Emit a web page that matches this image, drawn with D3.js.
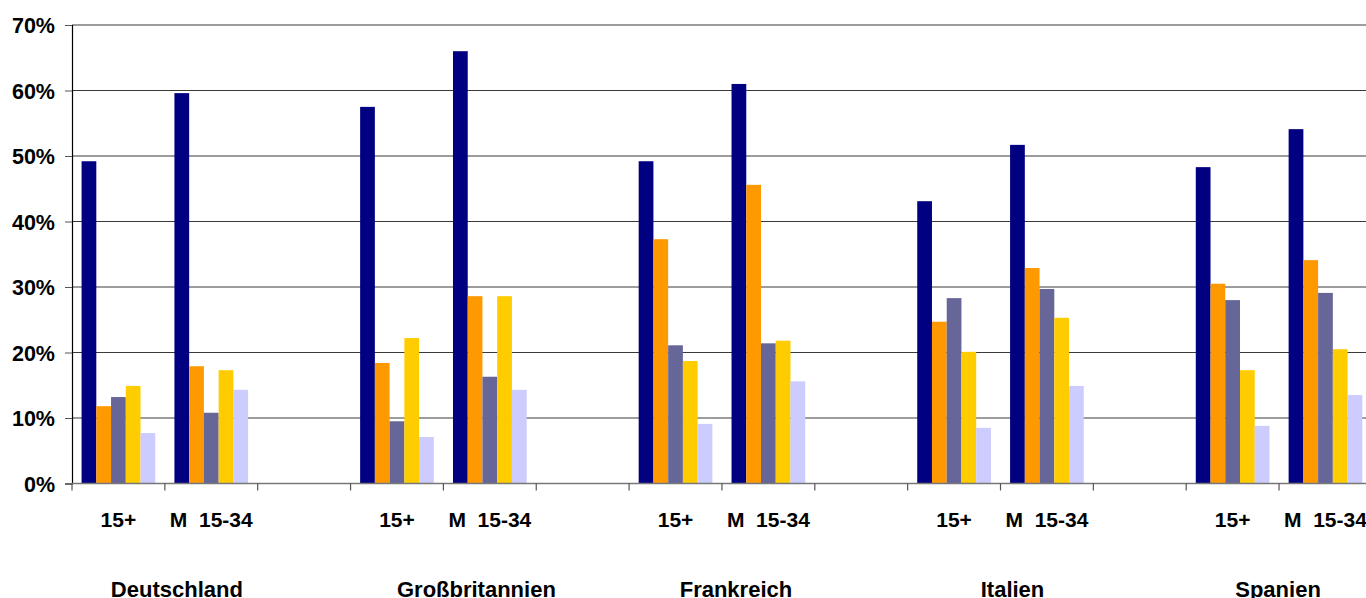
<!DOCTYPE html>
<html>
<head>
<meta charset="utf-8">
<script src="https://cdn.jsdelivr.net/npm/d3@7/dist/d3.min.js"></script>
<style>
  html, body { margin: 0; padding: 0; background: #fff; overflow: hidden; }
  svg { display: block; }
  text { font-family: "Liberation Sans", Arial, sans-serif; font-weight: bold; fill: #000; }
</style>
</head>
<body>
<svg id="chart" width="1366" height="598"></svg>
<script>
// Countries and the two audience segments shown for each
const countries = ["Deutschland", "Großbritannien", "Frankreich", "Italien", "Spanien"];
const segments = ["15+", "M  15-34"];

// Share values (%) per series, ordered country by country: 15+, M 15-34
const series1 = [49.2, 59.6, 57.5, 66.0, 49.2, 61.0, 43.1, 51.7, 48.3, 54.1];
const series2 = [11.8, 17.9, 18.4, 28.6, 37.3, 45.6, 24.7, 32.9, 30.5, 34.1];
const series3 = [13.2, 10.8, 9.5, 16.3, 21.1, 21.4, 28.3, 29.7, 28.0, 29.1];
const series4 = [14.9, 17.3, 22.2, 28.6, 18.7, 21.8, 20.1, 25.3, 17.3, 20.5];
const series5 = [7.7, 14.3, 7.1, 14.3, 9.1, 15.6, 8.5, 14.9, 8.8, 13.5];

const yTicks = [0, 10, 20, 30, 40, 50, 60, 70];

const seriesList = [series1, series2, series3, series4, series5];
const colors = ["#000080", "#FF9900", "#666699", "#FFCC00", "#CCCCFF"];

// Layout
const plotLeft = 72, plotTop = 25, plotBottom = 483.5;
const slotW = 92.85;
const labelShift = [12, 33, 14, 12, -1];

// Each country takes three category slots: two segments and an empty spacer
const slots = [];
countries.forEach((c, ci) => {
  segments.forEach((s, si) => slots.push({ id: c + "|" + s, country: ci, seg: s, idx: ci * 2 + si }));
  slots.push({ id: c + "|gap", country: ci, seg: null, idx: -1 });
});

const svg = d3.select("#chart");

const x = d3.scaleBand()
  .domain(slots.map(d => d.id))
  .range([plotLeft, plotLeft + slotW * slots.length])
  .paddingInner(0).paddingOuter(0);

const y = d3.scaleLinear().domain([0, 70]).range([plotBottom, plotTop]);

// Clustered bars with a 130% gap width
const inner = d3.scaleBand()
  .domain(d3.range(seriesList.length))
  .range([0, x.bandwidth()])
  .paddingInner(0)
  .paddingOuter(0.65);

// Gridlines
svg.append("g")
  .selectAll("line")
  .data(yTicks.filter(t => t > 0))
  .join("line")
  .attr("x1", plotLeft).attr("x2", 1366)
  .attr("y1", d => y(d)).attr("y2", d => y(d))
  .attr("stroke", "#3a3a3a").attr("stroke-width", 1);

// Bars
const dataSlots = slots.filter(s => s.seg !== null);
const gBars = svg.append("g");
seriesList.forEach((vals, si) => {
  gBars.append("g")
    .attr("fill", colors[si])
    .selectAll("rect")
    .data(dataSlots)
    .join("rect")
    .attr("x", d => x(d.id) + inner(si))
    .attr("width", inner.bandwidth())
    .attr("y", d => y(vals[d.idx]))
    .attr("height", d => y(0) - y(vals[d.idx]));
});

// Y axis
const yAxis = d3.axisLeft(y)
  .tickValues(yTicks)
  .tickFormat(d => d + "%")
  .tickSize(7)
  .tickPadding(10);
const gy = svg.append("g").attr("transform", `translate(${plotLeft},0)`).call(yAxis);
gy.select(".domain").attr("stroke", "#000").attr("stroke-width", 1.2);
gy.selectAll(".tick line").attr("stroke", "#555");
gy.selectAll(".tick text")
  .style("font-size", "21.5px")
  .attr("dy", "0.36em")
  .attr("fill", "#000");

// X axis: baseline and ticks at slot boundaries
const boundaries = slots.map(s => x(s.id)).concat([x(slots[slots.length - 1].id) + x.bandwidth()]);
svg.append("line")
  .attr("x1", plotLeft).attr("x2", 1366)
  .attr("y1", y(0)).attr("y2", y(0))
  .attr("stroke", "#777").attr("stroke-width", 1.5);
svg.append("g")
  .selectAll("line")
  .data(boundaries)
  .join("line")
  .attr("x1", d => d).attr("x2", d => d)
  .attr("y1", y(0)).attr("y2", y(0) + 7)
  .attr("stroke", "#555").attr("stroke-width", 1.2);

// Segment labels
svg.append("g")
  .selectAll("text")
  .data(dataSlots)
  .join("text")
  .attr("x", d => x(d.id) + x.bandwidth() / 2)
  .attr("y", 527)
  .attr("text-anchor", "middle")
  .style("font-size", "21px")
  .style("white-space", "pre")
  .attr("xml:space", "preserve")
  .text(d => d.seg);

// Country labels under each pair of segments
svg.append("g")
  .selectAll("text")
  .data(countries)
  .join("text")
  .attr("x", (d, i) => x(d + "|" + segments[1]) + labelShift[i])
  .attr("y", 597)
  .attr("text-anchor", "middle")
  .style("font-size", "22px")
  .text(d => d);
</script>
</body>
</html>
